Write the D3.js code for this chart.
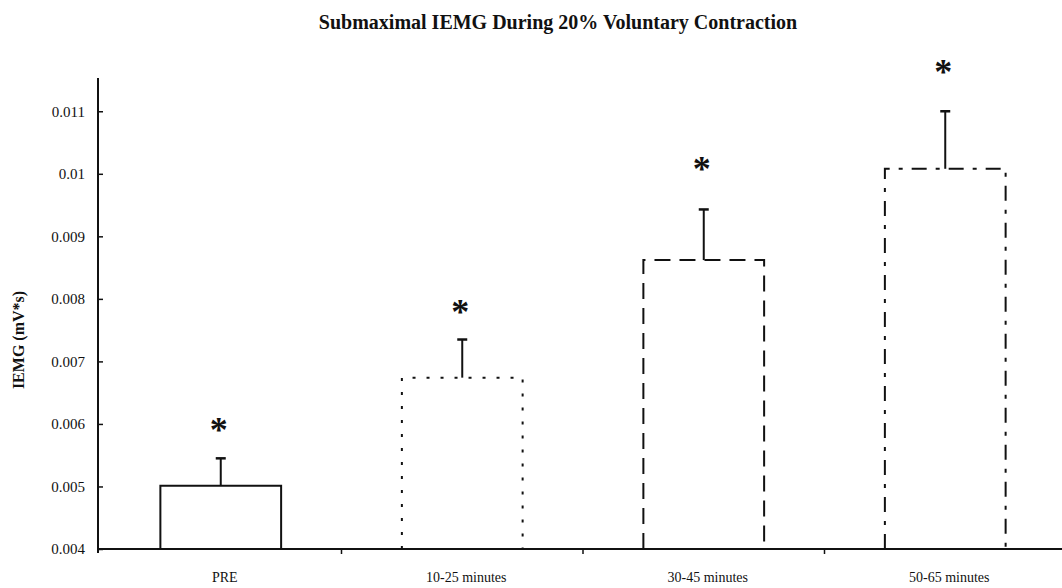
<!DOCTYPE html>
<html>
<head>
<meta charset="utf-8">
<script src="https://cdn.jsdelivr.net/npm/d3@7/dist/d3.min.js"></script>
<style>
  html, body { margin: 0; padding: 0; background: #fff; }
  svg { display: block; }
  text { font-family: "Liberation Serif", "Times New Roman", serif; fill: #111; }
</style>
</head>
<body>
<svg id="chart" width="1062" height="588"></svg>
<script>
// Mean integrated EMG per time window, with standard error and significance marks
const categories = ["PRE", "10-25 minutes", "30-45 minutes", "50-65 minutes"];
const means = [0.00501, 0.00674, 0.00862, 0.01008];
const errors = [0.00044, 0.00061, 0.00081, 0.00092];
const starLevels = [0.00598, 0.00787, 0.01016, 0.0117];
const yTicks = [0.004, 0.005, 0.006, 0.007, 0.008, 0.009, 0.01, 0.011];

// Outline style of each bar
const dashes = [null, "3,11", "16,9", "15,9,4,9"];

const svg = d3.select("#chart");
const plotLeft = 98, plotRight = 1066, plotTop = 80, plotBottom = 549;

const x = d3.scaleBand()
  .domain(categories)
  .range([plotLeft + 2, plotRight])
  .paddingInner(0.5)
  .paddingOuter(0.25);

const y = d3.scaleLinear()
  .domain([0.004, 0.0115])
  .range([plotBottom, plotTop]);

// Title
svg.append("text")
  .attr("x", 558).attr("y", 29)
  .attr("text-anchor", "middle")
  .style("font-weight", "bold")
  .style("font-size", "20px")
  .text("Submaximal IEMG During 20% Voluntary Contraction");

// Y axis title
svg.append("text")
  .attr("transform", "translate(24,340) rotate(-90)")
  .attr("text-anchor", "middle")
  .style("font-weight", "bold")
  .style("font-size", "16px")
  .text("IEMG (mV*s)");

// Y axis: ticks point into the plot
const yAxis = d3.axisRight(y)
  .tickValues(yTicks)
  .tickSize(5)
  .tickFormat(d => String(+d.toFixed(3)));
const gy = svg.append("g").attr("transform", `translate(${plotLeft},0)`).call(yAxis);
gy.select(".domain").remove();
gy.selectAll(".tick line").attr("stroke", "#111").attr("stroke-width", 1.5);
gy.selectAll(".tick text")
  .attr("x", -13).attr("text-anchor", "end")
  .style("font-size", "15px")
  .attr("fill", "#111");
svg.append("line")
  .attr("x1", plotLeft).attr("x2", plotLeft)
  .attr("y1", plotTop - 2).attr("y2", plotBottom + 4)
  .attr("stroke", "#111").attr("stroke-width", 2);

// X axis with ticks at category boundaries
const step = x.step();
svg.append("line")
  .attr("x1", plotLeft).attr("x2", plotRight)
  .attr("y1", plotBottom).attr("y2", plotBottom)
  .attr("stroke", "#111").attr("stroke-width", 2);
svg.selectAll(".xtick")
  .data(categories.slice(1))
  .join("line")
  .attr("class", "xtick")
  .attr("x1", d => x(d) - step * x.paddingInner() / 2)
  .attr("x2", d => x(d) - step * x.paddingInner() / 2)
  .attr("y1", plotBottom).attr("y2", plotBottom + 5)
  .attr("stroke", "#111").attr("stroke-width", 1.5);

svg.selectAll(".xlabel")
  .data(categories)
  .join("text")
  .attr("class", "xlabel")
  .attr("x", d => x(d) + x.bandwidth() / 2 + 4)
  .attr("y", 582)
  .attr("text-anchor", "middle")
  .style("font-size", "14px")
  .text(d => d);

// Bars: open outlines standing on the axis
const bars = categories.map((c, i) => ({ c, v: means[i], e: errors[i], s: starLevels[i], dash: dashes[i] }));
svg.selectAll(".bar")
  .data(bars)
  .join("path")
  .attr("class", "bar")
  .attr("d", d => {
    const x0 = x(d.c), x1 = x(d.c) + x.bandwidth();
    return `M${x0},${plotBottom} L${x0},${y(d.v)} L${x1},${y(d.v)} L${x1},${plotBottom}`;
  })
  .attr("fill", "none")
  .attr("stroke", "#111")
  .attr("stroke-width", 2)
  .attr("stroke-dasharray", d => d.dash);

// Upper error bars
const errG = svg.selectAll(".err").data(bars).join("g").attr("class", "err");
errG.append("line")
  .attr("x1", d => x(d.c) + x.bandwidth() / 2)
  .attr("x2", d => x(d.c) + x.bandwidth() / 2)
  .attr("y1", d => y(d.v)).attr("y2", d => y(d.v + d.e))
  .attr("stroke", "#111").attr("stroke-width", 2);
errG.append("line")
  .attr("x1", d => x(d.c) + x.bandwidth() / 2 - 5)
  .attr("x2", d => x(d.c) + x.bandwidth() / 2 + 5)
  .attr("y1", d => y(d.v + d.e)).attr("y2", d => y(d.v + d.e))
  .attr("stroke", "#111").attr("stroke-width", 2.5);

// Significance asterisks
const starSize = 36;
svg.selectAll(".star")
  .data(bars)
  .join("text")
  .attr("class", "star")
  .attr("x", d => x(d.c) + x.bandwidth() / 2 - 2)
  .attr("y", d => y(d.s) + starSize * 0.47)
  .attr("text-anchor", "middle")
  .style("font-size", starSize + "px")
  .style("font-weight", "bold")
  .text("*");
</script>
</body>
</html>
